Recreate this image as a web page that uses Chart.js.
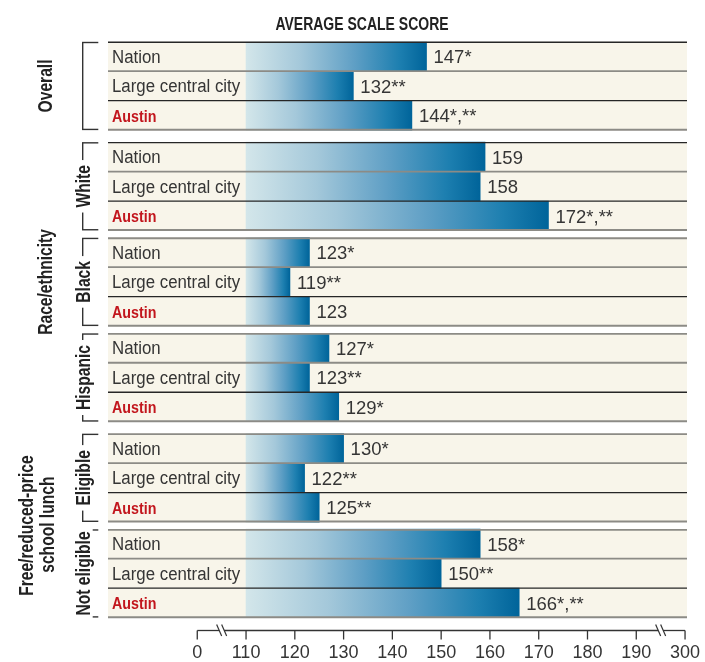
<!DOCTYPE html>
<html>
<head>
<meta charset="utf-8">
<title>Average scale score</title>
<script src="https://cdn.jsdelivr.net/npm/chart.js@4/dist/chart.umd.min.js"></script>
<style>
  html, body { margin: 0; padding: 0; background: #ffffff; }
  #wrap { width: 705px; height: 662px; }
</style>
</head>
<body>
<div id="wrap"><canvas id="chart" width="705" height="662"></canvas></div>
<script>
// ---- data ----
const groupNames = ['Overall', 'White', 'Black', 'Hispanic', 'Eligible', 'Not eligible'];
const rowNames = ['Nation', 'Large central city', 'Austin'];
const nationScores = [147, 159, 123, 127, 130, 158];
const largeCityScores = [132, 158, 119, 123, 122, 150];
const austinScores = [144, 172, 123, 129, 125, 166];
const nationNotes = ['*', '', '*', '*', '*', '*'];
const largeCityNotes = ['**', '', '**', '**', '**', '**'];
const austinNotes = ['*,**', '*,**', '', '*', '**', '*,**'];
const axisTickLabels = ['0', '110', '120', '130', '140', '150', '160', '170', '180', '190', '300'];
const barBase = 110;

// ---- layout helpers ----
// extra space (in row units) placed before each group of three rows
const gapBefore = [0, 0.4, 0.24, 0.24, 0.4, 0.24];
const gapCum = gapBefore.reduce((acc, g, i) => { acc.push((i ? acc[i - 1] : 0) + g); return acc; }, []);
const rowPos = (g, r) => g * 3 + r + gapCum[g];
// the broken axis: 0 and 300 sit one tick step outside 110 and 190
const axisPos = lbl => lbl === '0' ? 100 : (lbl === '300' ? 200 : Number(lbl));
const breakCenters = [105, 195];

const seriesScores = [nationScores, largeCityScores, austinScores];
const seriesNotes = [nationNotes, largeCityNotes, austinNotes];

const FONT = '"Liberation Sans", Arial, sans-serif';
const TEXT = '#353535';
const RED = '#c2161d';
const CREAM = '#f8f5ea';

function barGradient(context) {
  const chart = context.chart;
  const xs = chart.scales.x;
  if (context.type !== 'data' || !xs || !chart.chartArea) return '#1a70a3';
  const raw = context.raw;
  const x0 = xs.getPixelForValue(raw.x[0]);
  const x1 = xs.getPixelForValue(raw.x[1]);
  const g = chart.ctx.createLinearGradient(x0, 0, x1, 0);
  g.addColorStop(0, '#d3e6ea');
  g.addColorStop(0.3, '#a4c8da');
  g.addColorStop(0.6, '#5f9fc5');
  g.addColorStop(0.85, '#1d7fb0');
  g.addColorStop(1, '#00649a');
  return g;
}

const datasets = rowNames.map((name, r) => ({
  label: name,
  data: groupNames.map((gName, g) => ({ x: [barBase, seriesScores[r][g]], y: rowPos(g, r), note: seriesNotes[r][g] })),
  backgroundColor: barGradient,
  borderWidth: 0,
  grouped: false,
  barPercentage: 1,
  categoryPercentage: 1
}));

function drawText(ctx, str, x, y, opt) {
  ctx.save();
  ctx.translate(x, y);
  if (opt.rot) ctx.rotate(opt.rot);
  ctx.scale(opt.sx || 1, 1);
  ctx.font = opt.font;
  ctx.fillStyle = opt.color || TEXT;
  ctx.textAlign = opt.align || 'left';
  ctx.textBaseline = opt.baseline || 'alphabetic';
  ctx.fillText(str, 0, 0);
  ctx.restore();
}

function textWidth(ctx, str, font, sx) {
  ctx.save();
  ctx.font = font;
  const w = ctx.measureText(str).width * (sx || 1);
  ctx.restore();
  return w;
}

function line(ctx, x0, y0, x1, y1, color, w) {
  ctx.beginPath();
  ctx.moveTo(x0, y0);
  ctx.lineTo(x1, y1);
  ctx.strokeStyle = color;
  ctx.lineWidth = w;
  ctx.stroke();
}

const decor = {
  id: 'scoreDecor',
  beforeDatasetsDraw(chart) {
    const { ctx, chartArea: a, scales: { y } } = chart;
    ctx.save();
    ctx.fillStyle = CREAM;
    groupNames.forEach((_, g) => {
      const t = y.getPixelForValue(rowPos(g, 0) - 0.5);
      const b = y.getPixelForValue(rowPos(g, 2) + 0.5);
      ctx.fillRect(a.left, t, a.right - a.left, b - t);
    });
    ctx.restore();
  },
  afterDatasetsDraw(chart) {
    const { ctx, chartArea: a, scales: { x, y } } = chart;
    ctx.save();

    // row rules
    groupNames.forEach((_, g) => {
      const t = y.getPixelForValue(rowPos(g, 0) - 0.5);
      const s1 = y.getPixelForValue(rowPos(g, 0) + 0.5);
      const s2 = y.getPixelForValue(rowPos(g, 1) + 0.5);
      const b = y.getPixelForValue(rowPos(g, 2) + 0.5);
      line(ctx, a.left, t + 0.6, a.right, t + 0.6, g < 2 ? '#262626' : '#8c8b86', g < 2 ? 1.4 : 1.8);
      line(ctx, a.left, s1, a.right, s1, '#8c8b86', 1.8);
      line(ctx, a.left, s2, a.right, s2, '#262626', 1.3);
      line(ctx, a.left, b - 0.5, a.right, b - 0.5, '#8c8b86', 2);
    });

    // row labels and value labels
    chart.data.datasets.forEach((ds, r) => {
      ds.data.forEach(pt => {
        const cy = y.getPixelForValue(pt.y);
        if (r === 2) {
          drawText(ctx, rowNames[r], 112, cy + 6.3, { font: 'bold 17px ' + FONT, color: RED, sx: 0.84 });
        } else {
          drawText(ctx, rowNames[r], 112, cy + 6.5, { font: '18px ' + FONT, color: TEXT, sx: 0.935 });
        }
        const xe = x.getPixelForValue(pt.x[1]);
        drawText(ctx, pt.x[1] + pt.note, xe + 7, cy + 6.8, { font: '18.5px ' + FONT, color: TEXT });
      });
    });

    // title
    drawText(ctx, 'AVERAGE SCALE SCORE', 362, 29.5, { font: 'bold 17.5px ' + FONT, color: '#222', align: 'center', sx: 0.8 });

    // group brackets
    const bx = 82.7, bTick = 98.3, bColor = '#333';
    const gFont = 'bold 20px ' + FONT, gsx = 0.78;
    groupNames.forEach((name, g) => {
      const t = y.getPixelForValue(rowPos(g, 0) - 0.5) + 0.8;
      const b = y.getPixelForValue(rowPos(g, 2) + 0.5) - 0.8;
      line(ctx, bx, t, bx, b, bColor, 1.4);
      line(ctx, bx - 0.7, t, bTick, t, bColor, 1.4);
      line(ctx, bx - 0.7, b, bTick, b, bColor, 1.4);
      const cy = (t + b) / 2;
      if (g === 0) {
        drawText(ctx, name, 51.7, cy, { font: gFont, color: '#222', align: 'center', sx: gsx, rot: -Math.PI / 2 });
      } else {
        const w = textWidth(ctx, name, gFont, gsx);
        ctx.fillStyle = '#ffffff';
        ctx.fillRect(bx - 10, cy - w / 2 - 5, 20, w + 10);
        drawText(ctx, name, 89.5, cy, { font: gFont, color: '#222', align: 'center', sx: gsx, rot: -Math.PI / 2 });
      }
    });

    // outer headings
    const raceMid = (y.getPixelForValue(rowPos(1, 0) - 0.5) + y.getPixelForValue(rowPos(3, 2) + 0.5)) / 2;
    drawText(ctx, 'Race/ethnicity', 51.7, raceMid, { font: gFont, color: '#222', align: 'center', sx: gsx, rot: -Math.PI / 2 });
    const lunchMid = (y.getPixelForValue(rowPos(4, 0) - 0.5) + y.getPixelForValue(rowPos(5, 2) + 0.5)) / 2;
    drawText(ctx, 'Free/reduced-price', 33.3, lunchMid, { font: gFont, color: '#222', align: 'center', sx: gsx, rot: -Math.PI / 2 });
    drawText(ctx, 'school lunch', 53.5, lunchMid - 1, { font: gFont, color: '#222', align: 'center', sx: gsx, rot: -Math.PI / 2 });

    // broken x axis
    const axY = 630.5;
    const axColor = '#333';
    const xb = breakCenters.map(v => x.getPixelForValue(v));
    const xl = x.getPixelForValue(axisPos(axisTickLabels[0]));
    const xr = x.getPixelForValue(axisPos(axisTickLabels[axisTickLabels.length - 1]));
    line(ctx, xl, axY, xb[0] - 2.5, axY, axColor, 1.3);
    line(ctx, xb[0] + 2.5, axY, xb[1] - 2.5, axY, axColor, 1.3);
    line(ctx, xb[1] + 2.5, axY, xr, axY, axColor, 1.3);
    xb.forEach(c => {
      [-2.5, 2.5].forEach(o => line(ctx, c + o - 2.5, axY - 6, c + o + 2.5, axY + 5.5, axColor, 1.2));
    });
    axisTickLabels.forEach(lbl => {
      const px = x.getPixelForValue(axisPos(lbl));
      line(ctx, px, axY, px, axY + 9, axColor, 1.3);
      drawText(ctx, lbl, px, 658, { font: '18px ' + FONT, color: TEXT, align: 'center' });
    });

    ctx.restore();
  }
};

new Chart(document.getElementById('chart'), {
  type: 'bar',
  data: { datasets },
  options: {
    indexAxis: 'y',
    responsive: false,
    devicePixelRatio: 1,
    animation: false,
    layout: { padding: { left: 108, right: 18, top: 41.7, bottom: 44.3 } },
    scales: {
      x: { type: 'linear', min: 81.7, max: 200.4, display: false, offset: false },
      y: {
        type: 'linear', reverse: true, min: -0.5, max: 19.02, display: false, offset: false,
        // only the row positions set the bar height
        afterBuildTicks: scale => { scale.ticks = [{ value: 0 }]; }
      }
    },
    plugins: {
      legend: { display: false },
      tooltip: { enabled: false }
    }
  },
  plugins: [decor]
});
</script>
</body>
</html>
